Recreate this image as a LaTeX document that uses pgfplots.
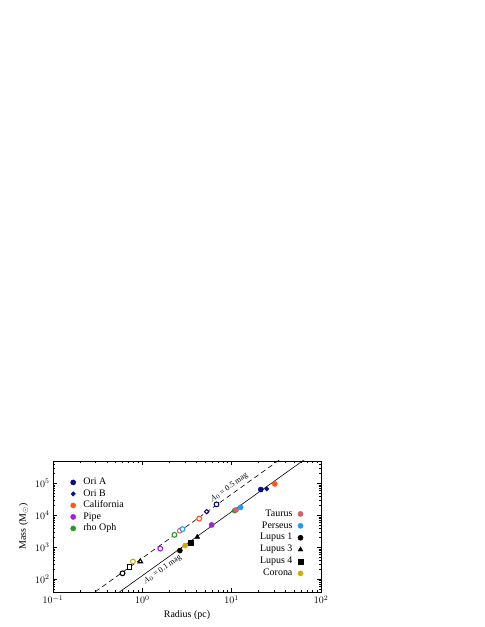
\documentclass[border=0pt]{standalone}
\usepackage{pgfplots}
\pgfplotsset{compat=1.18}
\usepackage{fontspec}
\setmainfont{Liberation Serif}

\definecolor{oria}{RGB}{12,12,128}
\definecolor{orib}{RGB}{12,12,128}
\definecolor{calif}{RGB}{255,85,25}
\definecolor{pipe}{RGB}{160,30,220}
\definecolor{rhooph}{RGB}{45,150,45}
\definecolor{taurus}{RGB}{210,100,100}
\definecolor{perseus}{RGB}{35,150,255}
\definecolor{corona}{RGB}{215,170,0}

\pgfplotsset{
  full/.style={only marks, mark=*, mark size=2.6bp},
  hollow/.style={only marks, mark=*, mark size=2.4bp, mark options={fill=white, line width=1.1bp}},
  dia/.style={only marks, mark=diamond*, mark size=2.3bp, mark options={xscale=1.3}},
}

\begin{document}
\begin{tikzpicture}[x=1bp,y=1bp]
\path[use as bounding box] (0,0) rectangle (485,627);
\begin{axis}[
    at={(53bp,35bp)}, anchor=south west,
    width=268bp, height=131bp, scale only axis,
    xmode=log, ymode=log,
    xmin=0.1, xmax=100, ymin=40, ymax=5e5,
    xlabel={Radius (pc)},
    ylabel={Mass (M$_\odot$)},
    label style={font=\fontsize{10}{12}\selectfont},
    tick label style={font=\fontsize{10}{12}\selectfont},
    tick align=inside,
    major tick length=4bp, minor tick length=2bp,
    axis line style={line width=0.6bp},
    every tick/.style={black, line width=0.5bp},
    legend image code/.code={\draw[mark repeat=1,#1] plot coordinates {(0bp,0bp)};},
    legend style={at={(0.065,0.878)}, anchor=north west, draw=none, fill=none,
      inner sep=0pt, row sep=1bp,
      nodes={inner sep=0.5bp, text height=7bp, text depth=2.5bp},
      font=\fontsize{10}{12}\selectfont,
      /tikz/every odd column/.append style={column sep=7bp}},
    legend cell align=left,
]
% reference lines, M proportional to R^2
\addplot[black, line width=0.6bp, forget plot] coordinates {(0.5,32.5) (70,637000)};
\addplot[black, line width=0.6bp, dash pattern=on 5bp off 3.5bp, forget plot] coordinates {(0.25,28.75) (40,736000)};

% filled markers (A0 = 0.1 mag)
\addplot[full, color=oria, forget plot] coordinates {(21.2,64000)};
\addplot[dia, color=orib, forget plot] coordinates {(24.7,67000)};
\addplot[full, color=calif, forget plot] coordinates {(30.4,96000)};
\addplot[full, color=pipe, forget plot] coordinates {(5.96,5000)};
\addplot[full, color=rhooph, forget plot] coordinates {(10.8,14000)};
\addplot[full, color=taurus, forget plot] coordinates {(11.2,14800)};
\addplot[full, color=perseus, forget plot] coordinates {(12.6,17800)};
\addplot[full, color=black, forget plot] coordinates {(2.63,790)};
\addplot[only marks, mark=triangle*, mark size=2.8bp, color=black, forget plot] coordinates {(4.12,2100)};
\addplot[only marks, mark=square*, mark size=2.3bp, color=black, forget plot] coordinates {(3.47,1370)};
\addplot[full, color=corona, forget plot] coordinates {(3.02,1130)};

% open markers (A0 = 0.5 mag)
\addplot[hollow, color=oria, forget plot] coordinates {(6.77,22000)};
\addplot[only marks, mark=diamond*, mark size=2.2bp, mark options={fill=white, line width=1.1bp, xscale=1.3}, color=orib, forget plot] coordinates {(5.25,13000)};
\addplot[hollow, color=calif, forget plot] coordinates {(4.33,7900)};
\addplot[hollow, color=pipe, forget plot] coordinates {(1.59,910)};
\addplot[hollow, color=rhooph, forget plot] coordinates {(2.29,2450)};
\addplot[hollow, color=taurus, forget plot] coordinates {(2.63,3300)};
\addplot[hollow, color=perseus, forget plot] coordinates {(2.82,3700)};
\addplot[hollow, color=black, forget plot] coordinates {(0.60,154)};
\addplot[only marks, mark=triangle*, mark size=2.6bp, mark options={fill=white, line width=1.1bp}, color=black, forget plot] coordinates {(0.95,360)};
\addplot[only marks, mark=square*, mark size=2.2bp, mark options={fill=white, line width=1.1bp}, color=black, forget plot] coordinates {(0.72,240)};
\addplot[hollow, color=corona, forget plot] coordinates {(0.785,360)};

\node[rotate=35.6, anchor=south, inner sep=3bp, font=\fontsize{8}{9}\selectfont] at (axis cs:10.3,48800) {$A_0$ = 0.5 mag};
\node[rotate=35.6, anchor=north, inner sep=3bp, font=\fontsize{8}{9}\selectfont] at (axis cs:1.51,296) {$A_0$ = 0.1 mag};

\addlegendimage{full, color=oria}\addlegendentry{Ori A}
\addlegendimage{dia, color=orib}\addlegendentry{Ori B}
\addlegendimage{full, color=calif}\addlegendentry{California}
\addlegendimage{full, color=pipe}\addlegendentry{Pipe}
\addlegendimage{full, color=rhooph}\addlegendentry{rho Oph}
\end{axis}

\begin{axis}[
    at={(53bp,35bp)}, anchor=south west,
    width=268bp, height=131bp, scale only axis,
    xmode=log, ymode=log,
    xmin=0.1, xmax=100, ymin=40, ymax=5e5,
    hide axis,
    legend image code/.code={\draw[mark repeat=1,#1] plot coordinates {(0bp,0bp)};},
    legend plot pos=right,
    legend style={at={(0.934,0.10)}, anchor=south east, draw=none, fill=none,
      inner sep=0pt, row sep=1.4bp,
      nodes={inner sep=0.5bp, text height=7bp, text depth=2.5bp},
      font=\fontsize{10}{12}\selectfont,
      /tikz/every odd column/.append style={column sep=5bp}},
    legend cell align=right,
]
\addlegendimage{full, color=taurus}\addlegendentry{Taurus}
\addlegendimage{full, color=perseus}\addlegendentry{Perseus}
\addlegendimage{full, color=black}\addlegendentry{Lupus 1}
\addlegendimage{only marks, mark=triangle*, mark size=2.8bp, color=black}\addlegendentry{Lupus 3}
\addlegendimage{only marks, mark=square*, mark size=2.3bp, color=black}\addlegendentry{Lupus 4}
\addlegendimage{full, color=corona}\addlegendentry{Corona}
\end{axis}
\end{tikzpicture}
\end{document}
